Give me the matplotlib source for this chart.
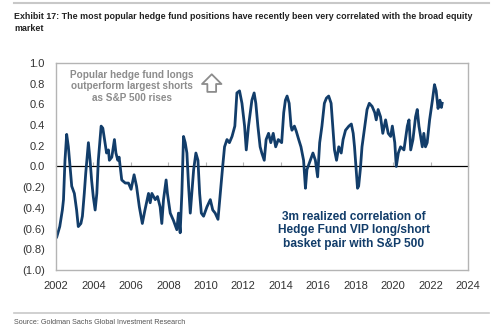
import matplotlib.pyplot as plt

# 3m realized correlation
years = [2002.04, 2002.2, 2002.34, 2002.4, 2002.48, 2002.57, 2002.66, 2002.75, 2002.84, 2002.98,
         2003.1, 2003.19, 2003.33, 2003.41, 2003.51, 2003.59, 2003.73, 2003.82, 2003.9, 2003.99,
         2004.09, 2004.18, 2004.26, 2004.41, 2004.5, 2004.62, 2004.7, 2004.8, 2004.85, 2004.98,
         2005.12, 2005.2, 2005.3, 2005.37, 2005.51, 2005.7, 2005.87, 2006.01, 2006.17, 2006.3,
         2006.45, 2006.61, 2006.75, 2006.94, 2007.03, 2007.12, 2007.3, 2007.42, 2007.56, 2007.65,
         2007.74, 2007.88, 2007.95, 2008.1, 2008.27, 2008.45, 2008.54, 2008.63, 2008.72, 2008.81,
         2008.9, 2008.99, 2009.08, 2009.17, 2009.35, 2009.47, 2009.58, 2009.67, 2009.76, 2009.88,
         2010.06, 2010.24, 2010.37, 2010.5, 2010.65, 2010.77, 2010.9, 2011.0, 2011.13, 2011.26,
         2011.4, 2011.55, 2011.66, 2011.8, 2011.93, 2012.07, 2012.16, 2012.28, 2012.46, 2012.58,
         2012.67, 2012.78, 2012.9, 2012.99, 2013.12, 2013.22, 2013.35, 2013.47, 2013.6, 2013.73,
         2013.87, 2014.05, 2014.16, 2014.25, 2014.34, 2014.45, 2014.55, 2014.6, 2014.73, 2014.83,
         2014.96, 2015.08, 2015.22, 2015.32, 2015.4, 2015.58, 2015.72, 2015.85, 2015.97, 2016.08,
         2016.2, 2016.33, 2016.44, 2016.56, 2016.69, 2016.78, 2016.87, 2016.98, 2017.1, 2017.23,
         2017.33, 2017.46, 2017.64, 2017.77, 2017.87, 2017.94, 2018.03, 2018.1, 2018.16, 2018.25,
         2018.34, 2018.49, 2018.61, 2018.73, 2018.88, 2019.02, 2019.1, 2019.2, 2019.33, 2019.45,
         2019.6, 2019.74, 2019.87, 2019.96, 2020.09, 2020.17, 2020.28, 2020.4, 2020.58, 2020.76,
         2020.85, 2020.94, 2021.06, 2021.2, 2021.29, 2021.38, 2021.47, 2021.56, 2021.64, 2021.73,
         2021.82, 2021.95, 2022.1, 2022.21, 2022.3, 2022.4, 2022.5, 2022.58, 2022.62]
corr = [-0.68, -0.58, -0.42, -0.32, 0.06, 0.31, 0.19, 0.0, -0.19, -0.26,
        -0.42, -0.58, -0.55, -0.48, -0.26, -0.06, 0.23, 0.06, -0.13, -0.29,
        -0.42, -0.26, 0.06, 0.39, 0.37, 0.23, 0.13, 0.16, 0.06, 0.09,
        0.26, 0.13, 0.06, 0.09, -0.13, -0.16, -0.16, -0.22, -0.08, -0.19,
        -0.39, -0.55, -0.42, -0.26, -0.35, -0.26, -0.32, -0.29, -0.39, -0.55,
        -0.32, -0.13, -0.26, -0.45, -0.52, -0.61, -0.45, -0.64, -0.26, 0.29,
        0.23, 0.13, -0.19, -0.45, -0.03, 0.13, 0.06, -0.26, -0.45, -0.48,
        -0.39, -0.32, -0.42, -0.45, -0.51, -0.26, 0.0, 0.19, 0.26, 0.23,
        0.29, 0.39, 0.71, 0.73, 0.61, 0.39, 0.16, 0.39, 0.64, 0.71,
        0.61, 0.39, 0.19, 0.13, 0.06, 0.26, 0.32, 0.23, 0.32, 0.19,
        0.26, 0.23, 0.52, 0.64, 0.68, 0.61, 0.39, 0.35, 0.39, 0.34,
        0.26, 0.19, 0.06, -0.21, -0.03, 0.06, 0.13, 0.06, -0.1, 0.23,
        0.39, 0.61, 0.66, 0.68, 0.61, 0.39, 0.16, 0.06, 0.19, 0.13,
        0.26, 0.35, 0.39, 0.41, 0.32, 0.19, -0.03, -0.21, -0.19, -0.03,
        0.19, 0.39, 0.55, 0.61, 0.58, 0.52, 0.45, 0.55, 0.48, 0.32,
        0.45, 0.32, 0.29, 0.39, 0.23, 0.0, 0.13, 0.19, 0.16, 0.39,
        0.45, 0.16, 0.26, 0.48, 0.55, 0.39, 0.29, 0.19, 0.32, 0.19,
        0.23, 0.45, 0.64, 0.79, 0.73, 0.56, 0.64, 0.57, 0.61]

xticks = list(range(2002, 2025, 2))
yticks = [1.0, 0.8, 0.6, 0.4, 0.2, 0.0, -0.2, -0.4, -0.6, -0.8, -1.0]
ylabels = ["1.0", "0.8", "0.6", "0.4", "0.2", "0.0", "(0.2)", "(0.4)", "(0.6)", "(0.8)", "(1.0)"]

navy = "#123d6a"
grey = "#b4b4b4"
font = "Liberation Sans"

fig = plt.figure(figsize=(5, 3.31), dpi=100)
ax = fig.add_axes([0.112, 0.184, 0.824, 0.626])

ax.plot(years, corr, color=navy, lw=2.0, solid_joinstyle="round")
ax.set_xlim(2002, 2024)
ax.set_ylim(-1, 1)
ax.set_xticks(xticks)
ax.set_yticks(yticks)
ax.set_yticklabels(ylabels)
ax.tick_params(axis="both", length=0, labelsize=8, labelcolor="#333333", pad=8)
for lab in ax.get_xticklabels() + ax.get_yticklabels():
    lab.set_family(font)
for s in ax.spines.values():
    s.set_color(grey)
    s.set_linewidth(1.0)

# zero line with small ticks pointing down
ax.axhline(0, color=grey, lw=1.0, zorder=0)
sec = ax.secondary_xaxis(0.5)
sec.set_xticks(xticks)
sec.set_xticklabels([""] * len(xticks))
sec.tick_params(length=3, color=grey)
sec.spines["bottom"].set_visible(False)

ax.text(0.184, 0.965, "Popular hedge fund longs\noutperform largest shorts\nas S&P 500 rises",
        transform=ax.transAxes, ha="center", va="top", fontsize=7.2, color="#8c8c8c",
        fontweight="bold", family=font, linespacing=1.15)
ax.annotate("", xy=(0.378, 0.945), xytext=(0.378, 0.86), xycoords="axes fraction",
            arrowprops=dict(arrowstyle="simple,head_length=0.5,head_width=1.0,tail_width=0.45",
                            fc="white", ec="#8c8c8c", lw=1.3, mutation_scale=14,
                            shrinkA=0, shrinkB=0))
ax.text(0.723, 0.285, "3m realized correlation of\nHedge Fund VIP long/short\nbasket pair with S&P 500",
        transform=ax.transAxes, ha="center", va="top", fontsize=8.6, color=navy,
        fontweight="bold", family=font, linespacing=1.15)

fig.text(0.028, 0.965, "Exhibit 17: The most popular hedge fund positions have recently been very correlated with the broad equity\nmarket",
         ha="left", va="top", fontsize=6.4, fontweight="bold", color="#222222", family=font,
         linespacing=1.45)
fig.text(0.028, 0.027, "Source: Goldman Sachs Global Investment Research", ha="left", va="center",
         fontsize=5.2, color="#555555", family=font)
fig.add_artist(plt.Line2D([0.028, 0.978], [0.99, 0.99], color="#c8c8c8", lw=1.5))
fig.add_artist(plt.Line2D([0.028, 0.978], [0.054, 0.054], color="#c8c8c8", lw=1.2))

fig.savefig("out.png", dpi=100)
plt.close(fig)
